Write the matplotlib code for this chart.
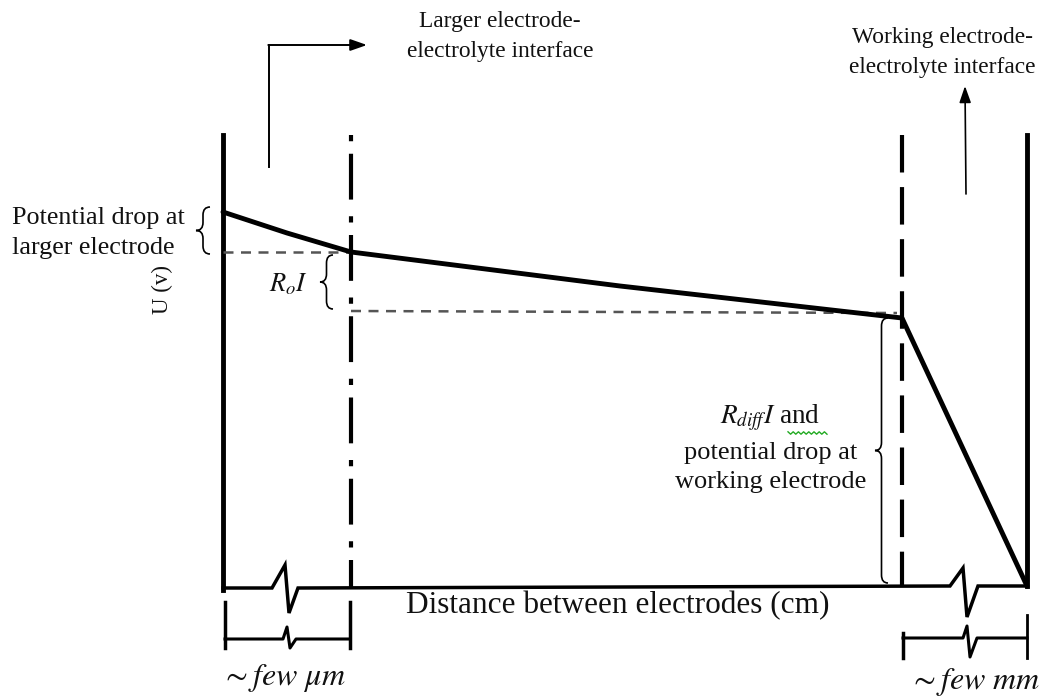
import numpy as np
import matplotlib.pyplot as plt
from matplotlib.path import Path
from matplotlib.patches import PathPatch

plt.rcParams['font.family'] = ['Liberation Serif', 'DejaVu Serif']
plt.rcParams['mathtext.fontset'] = 'stix'

# --- diagram geometry (pixel units, y grows downward) ---
# potential profile U(x) between the electrodes
curve_x = [223, 287, 351, 620, 902, 1027]
curve_y = [212, 233, 252, 286, 318, 586]

# electrode walls and interface markers
left_wall_x, right_wall_x = 223, 1027
larger_iface_x, working_iface_x = 351, 902
wall_top = 135

# baseline with the two axis breaks
base_x = [223, 272, 285, 289, 298, 950, 963, 967, 978, 1027]
base_y = [588, 588, 565, 613, 588, 586, 568, 617, 586, 586]

# scale bars under the axis
bar_left_x = [225, 283, 287, 290, 296, 350]
bar_left_y = [639, 639, 627, 648, 639, 639]
bar_right_x = [903, 963, 967, 970, 977, 1027]
bar_right_y = [638, 638, 626, 657, 638, 638]

# reference levels for the drops
drop_top = 252
drop_mid = 311


def brace(ax, x_tip, x_back, y0, y1, lw=1.2):
    xm = (x_tip + x_back) / 2
    ym = (y0 + y1) / 2
    r = min(8, (y1 - y0) / 4)
    verts = [(x_back, y0), (xm, y0), (xm, y0 + r),
             (xm, ym - r),
             (xm, ym), (x_tip, ym),
             (xm, ym), (xm, ym + r),
             (xm, y1 - r),
             (xm, y1), (x_back, y1)]
    codes = [Path.MOVETO, Path.CURVE3, Path.CURVE3,
             Path.LINETO,
             Path.CURVE3, Path.CURVE3,
             Path.CURVE3, Path.CURVE3,
             Path.LINETO,
             Path.CURVE3, Path.CURVE3]
    ax.add_patch(PathPatch(Path(verts, codes), fill=False, lw=lw, color='black'))


fig = plt.figure(figsize=(10.49, 7.0), dpi=100)
ax = fig.add_axes([0, 0, 1, 1])
ax.set_xlim(0, 1049)
ax.set_ylim(700, 0)
ax.axis('off')

# walls
ax.plot([left_wall_x, left_wall_x], [wall_top, base_y[0] + 2], color='black', lw=3.5)
ax.plot([right_wall_x, right_wall_x], [wall_top, base_y[-1]], color='black', lw=3.5)

# interface lines
ax.plot([larger_iface_x, larger_iface_x], [wall_top, 588], color='black', lw=3,
        dashes=(1.5, 3, 11, 4))
ax.plot([working_iface_x, working_iface_x], [wall_top, 586], color='black', lw=3,
        dashes=(9, 3.5))

# drop reference levels
ax.plot([left_wall_x, larger_iface_x], [drop_top, drop_top], color='#555555', lw=1.8,
        dashes=(4, 3))
ax.plot([larger_iface_x, working_iface_x - 5], [drop_mid, drop_mid + 2], color='#555555',
        lw=1.8, dashes=(4, 3))

# baseline and potential curve
ax.plot(base_x, base_y, color='black', lw=2.5, solid_joinstyle='miter')
ax.plot(curve_x, curve_y, color='black', lw=3.5, solid_capstyle='round')

# scale bars
ax.plot(bar_left_x, bar_left_y, color='black', lw=2.2)
ax.plot([225, 225], [602, 648], color='black', lw=2.5)
ax.plot([350, 350], [602, 648], color='black', lw=2.5)
ax.plot(bar_right_x, bar_right_y, color='black', lw=2.2)
ax.plot([903, 903], [633, 658], color='black', lw=2.5)
ax.plot([1027, 1027], [615, 658], color='black', lw=2.0)

# braces
brace(ax, 196, 210, 207, 254)
brace(ax, 320, 333, 255, 309)
brace(ax, 875, 888, 318, 583)

# arrows pointing to the interface labels
ax.plot([269, 269], [167, 45], color='black', lw=1.4)
ax.annotate('', xy=(367, 45), xytext=(268.3, 45),
            arrowprops=dict(arrowstyle='-|>,head_length=1.0,head_width=0.35',
                            color='black', lw=1.4, shrinkA=0, shrinkB=0))
ax.annotate('', xy=(965, 86), xytext=(966, 194),
            arrowprops=dict(arrowstyle='-|>,head_length=1.0,head_width=0.35',
                            color='black', lw=1.2, shrinkA=0, shrinkB=0))

# labels
txt = dict(color='#111111', va='center')
ax.text(500, 22, 'Larger electrode-', ha='center', fontsize=16.8, **txt)
ax.text(500, 52, 'electrolyte interface', ha='center', fontsize=16.8, **txt)
ax.text(942, 38, 'Working electrode-', ha='center', fontsize=16.8, **txt)
ax.text(942, 67, 'electrolyte interface', ha='center', fontsize=16.8, **txt)

ax.text(12, 218, 'Potential drop at', ha='left', fontsize=18.8, **txt)
ax.text(12, 248, 'larger electrode', ha='left', fontsize=18.8, **txt)

ax.text(289, 284, r'$R_o I$', ha='center', fontsize=19, **txt)
ax.text(162, 290, 'U (v)', ha='center', rotation=90, fontsize=16.5, **txt)

ax.text(770, 418, r'$R_{diff}I$ and', ha='center', fontsize=19.5, **txt)
ax.text(771, 453, 'potential drop at', ha='center', fontsize=19, **txt)
ax.text(771, 482, 'working electrode', ha='center', fontsize=19, **txt)

# spell-check squiggle under "and"
sq_x = np.linspace(788, 827, 16)
sq_y = 433 + np.where(np.arange(16) % 2 == 0, -1.2, 1.2)
ax.plot(sq_x, sq_y, color='#22aa22', lw=1.0)

ax.text(618, 606, 'Distance between electrodes (cm)', ha='center', fontsize=22.5, **txt)

ax.text(283, 678, r'$\sim few\ \mu m$', ha='center', fontsize=23, **txt)
ax.text(974, 682, r'$\sim few\ mm$', ha='center', fontsize=23, **txt)

fig.savefig('out.png', dpi=100)
